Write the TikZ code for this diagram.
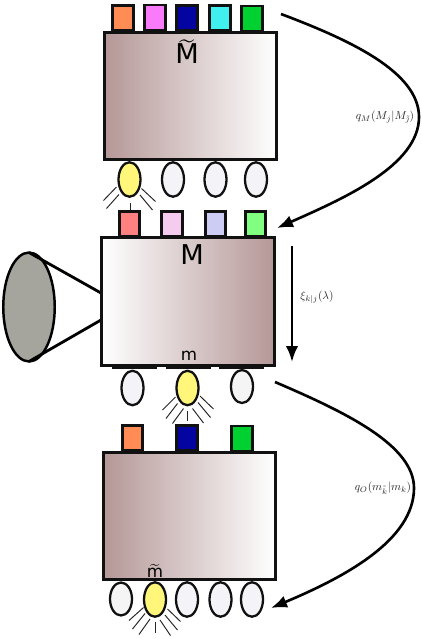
\documentclass[tikz,border=0pt]{standalone}
\usepackage{amsmath,amssymb}
\usepackage{fontspec}
\setsansfont{DejaVu Sans}
\usetikzlibrary{arrows.meta,shapes.geometric}
\definecolor{boxbrown}{HTML}{B59797}
\definecolor{lampoff}{HTML}{F4F4F8}
\definecolor{lampon}{HTML}{FFF67A}
\definecolor{conegray}{HTML}{A5A59D}
\definecolor{barblack}{HTML}{111111}

\begin{document}
\begin{tikzpicture}[x=0.02cm,y=-0.02cm,>={Latex[length=0.32cm,width=0.25cm]},
  statebox/.style={draw=barblack,line width=1.7pt,minimum width=3.45cm,minimum height=2.55cm,inner sep=0pt,outer sep=0pt},
  tagbox/.style={draw=barblack,line width=1.5pt,minimum width=0.41cm,minimum height=0.5cm,inner sep=0pt,outer sep=0pt},
  lamp/.style={ellipse,draw=barblack,line width=1.3pt,fill=lampoff,minimum width=0.44cm,minimum height=0.69cm,inner sep=0pt,outer sep=0pt},
  lampbright/.style={lamp,fill=lampon},
  ray/.style={line width=0.55pt,black!85},
  bigletter/.style={font=\sffamily\fontsize{15.5}{16}\selectfont,inner sep=0pt},
  smallletter/.style={font=\sffamily\fontsize{9.5}{10}\selectfont,inner sep=0pt},
  mathlabel/.style={font=\normalsize,scale=0.65,text=black!85,inner sep=0pt},
  flow/.style={->,line width=1.5pt}]
\useasboundingbox (0,0) rectangle (422,639);
% tags above the upper box
\node[tagbox,fill={rgb,255:red,255;green,140;blue,85}] (tagUa) at (123,18) {};
\node[tagbox,fill={rgb,255:red,249;green,123;blue,249}] (tagUb) at (155,17.5) {};
\node[tagbox,fill={rgb,255:red,4;green,4;blue,160}] (tagUc) at (187,18) {};
\node[tagbox,fill={rgb,255:red,64;green,240;blue,240}] (tagUd) at (220,18) {};
\node[tagbox,fill={rgb,255:red,0;green,208;blue,48}] (tagUe) at (252,18.5) {};
% upper box
\node[statebox,left color=boxbrown,right color=white] (boxU) at (190.5,95.8) {};
\node[bigletter] (labelU) at (187,52) {$\widetilde{\raisebox{0pt}[9pt][0pt]{\sffamily M}}$};
% lamps of the upper box
\node[lampbright] (lampUa) at (129.5,179.5) {};
\node[lamp] (lampUb) at (173,179.5) {};
\node[lamp] (lampUc) at (215.5,179.5) {};
\node[lamp] (lampUd) at (256,179.5) {};
\draw[ray] (116.5,187) -- (103.5,200.5);
\draw[ray] (119,194.5) -- (106.5,208.5);
\draw[ray] (130,202.5) -- (130,211);
\draw[ray] (141.5,188.5) -- (155.5,201.5);
\draw[ray] (140,195) -- (152.5,210);
% tags above the middle box
\node[tagbox,fill={rgb,255:red,255;green,128;blue,128}] (tagMa) at (129.5,224) {};
\node[tagbox,fill={rgb,255:red,245;green,204;blue,240}] (tagMb) at (172,224) {};
\node[tagbox,fill={rgb,255:red,204;green,204;blue,245}] (tagMc) at (215.5,224) {};
\node[tagbox,fill={rgb,255:red,128;green,255;blue,128}] (tagMd) at (255.5,224) {};
% horn on the left
\node[ellipse,draw=black,line width=1.4pt,fill=conegray,minimum width=1.03cm,minimum height=2.18cm,inner sep=0pt,outer sep=0pt] (horn) at (29,307) {};
\coordinate (hornU) at (101,293);
\coordinate (hornL) at (101,320);
\draw[line width=1.6pt] (horn.north) -- (hornU);
\draw[line width=1.6pt] (horn.south) -- (hornL);
% middle box
\node[statebox,left color=white,right color=boxbrown] (boxM) at (188,301.7) {};
\node[bigletter] (labelM) at (192,255) {M};
\node[smallletter] (labelm) at (189,356) {m};
% bars below the middle box
\fill[barblack] (112,366.5) rectangle (157,369);
\fill[barblack] (166,366.5) rectangle (211,369);
\fill[barblack] (219,366.5) rectangle (264,369);
% lamps of the middle box
\node[lamp] (lampMa) at (132.5,388) {};
\node[lampbright] (lampMb) at (187.5,388) {};
\node[lamp,fill=black!4,minimum height=0.66cm] (lampMc) at (242,386.5) {};
\draw[ray] (175.5,397) -- (162.5,410);
\draw[ray] (177.5,403.5) -- (166,418.5);
\draw[ray] (183.5,408.5) -- (172.5,423.5);
\draw[ray] (187.5,411) -- (187.5,421);
\draw[ray] (192.5,408.5) -- (203.5,423);
\draw[ray] (198,402.5) -- (210.5,417.5);
\draw[ray] (200,396) -- (213.5,409);
% arrow along the middle box
\coordinate (fallA) at (292,246);
\coordinate (fallB) at (292,362);
\draw[flow] (fallA) -- (fallB);
\node[mathlabel] (labelXi) at (317,297) {$\xi_{k|j}(\lambda)$};
% tags above the lower box
\node[tagbox,fill={rgb,255:red,255;green,140;blue,85}] (tagLa) at (132.5,438) {};
\node[tagbox,fill={rgb,255:red,4;green,4;blue,160}] (tagLb) at (187,438) {};
\node[tagbox,fill={rgb,255:red,0;green,208;blue,48}] (tagLc) at (242,438.5) {};
% lower box
\node[statebox,left color=boxbrown,right color=white] (boxL) at (189.7,516.2) {};
\node[smallletter] (labelLm) at (155,571) {$\widetilde{\raisebox{0pt}[5pt][0pt]{\sffamily m}}$};
% lamps of the lower box
\node[lamp,fill=black!4,minimum height=0.66cm] (lampLa) at (121,599) {};
\node[lampbright] (lampLb) at (155,599.5) {};
\node[lamp] (lampLc) at (187,599.5) {};
\node[lamp] (lampLd) at (220.5,599.5) {};
\node[lamp] (lampLe) at (252,599.5) {};
\draw[ray] (143.5,607.5) -- (129,620.5);
\draw[ray] (145,613.5) -- (132.5,629);
\draw[ray] (150,619) -- (139,634.5);
\draw[ray] (155.5,621.5) -- (155.5,632.5);
\draw[ray] (160,620) -- (170.5,635.5);
\draw[ray] (165,615) -- (177.5,630);
\draw[ray] (167.5,609) -- (180.5,621.5);
% curved arrows on the right
\coordinate (swingUa) at (281,14);
\coordinate (swingUb) at (277,228);
\coordinate (swingLa) at (275,382);
\coordinate (swingLb) at (271,608);
\draw[flow] (swingUa) .. controls (350,40) and (419,72) .. (419,117) .. controls (419,165) and (345,198) .. (swingUb);
\draw[flow] (swingLa) .. controls (345,412) and (414,445) .. (414,488) .. controls (414,540) and (345,577) .. (swingLb);
\node[mathlabel] (labelqM) at (385,117) {$q_M(M_j|M_{\tilde{\jmath}})$};
\node[mathlabel] (labelqO) at (383,488) {$q_O(m_{\tilde{k}}|m_k)$};
\end{tikzpicture}
\end{document}
